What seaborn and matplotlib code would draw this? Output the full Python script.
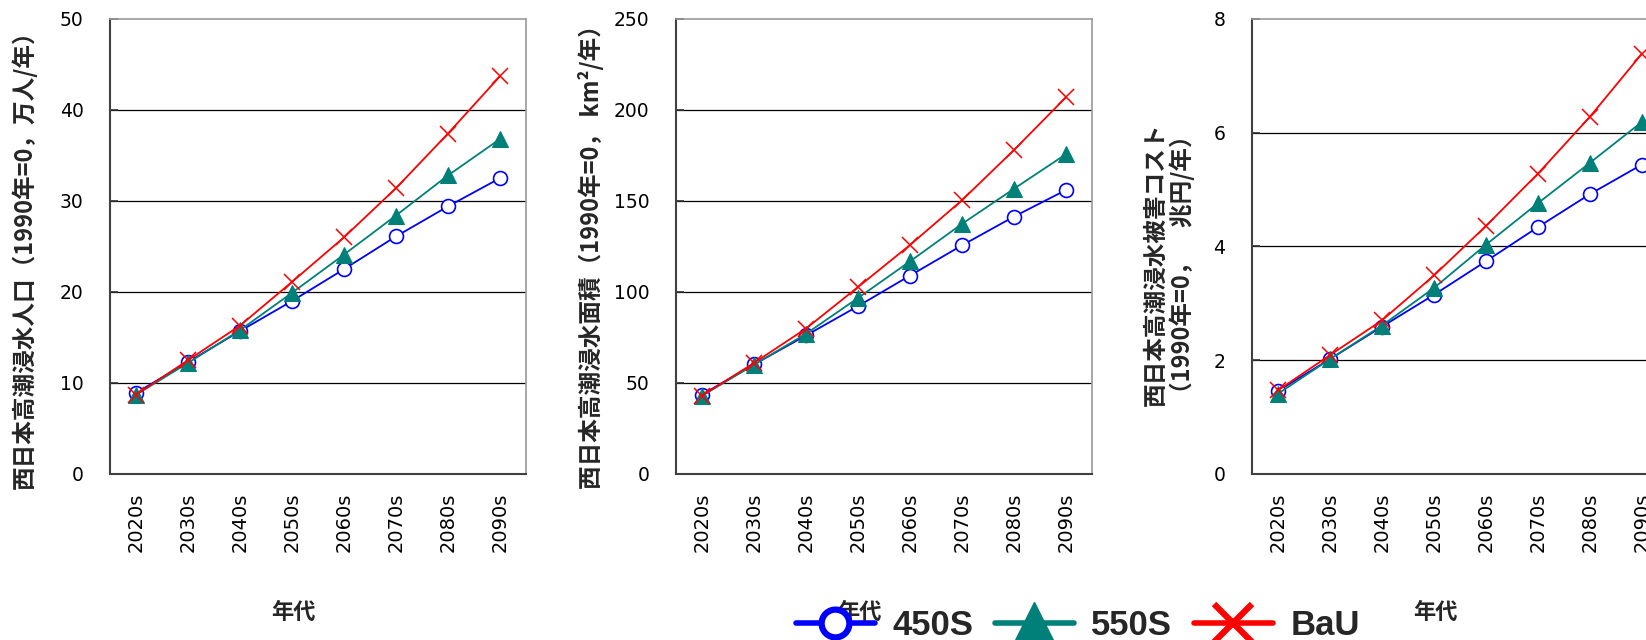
import matplotlib
matplotlib.use("Agg")
import matplotlib.pyplot as plt
from matplotlib.lines import Line2D
import pandas as pd
import seaborn as sns

decades = ["2020s", "2030s", "2040s", "2050s", "2060s", "2070s", "2080s", "2090s"]
scenarios = ["450S", "550S", "BaU"]

# 西日本高潮浸水人口 (万人/年)
pop_450 = [8.9, 12.3, 15.7, 19.0, 22.5, 26.1, 29.4, 32.5]
pop_550 = [8.7, 12.2, 15.8, 19.9, 24.1, 28.4, 32.8, 36.8]
pop_bau = [8.7, 12.5, 16.3, 21.1, 26.0, 31.4, 37.4, 43.7]

# 西日本高潮浸水面積 (km2/年)
area_450 = [43.6, 60.2, 76.1, 92.2, 109.0, 125.6, 141.4, 156.0]
area_550 = [43.0, 60.0, 77.0, 96.7, 116.8, 137.4, 156.7, 175.7]
area_bau = [43.0, 61.0, 79.9, 102.7, 125.8, 150.4, 178.0, 207.0]

# 西日本高潮浸水被害コスト (兆円/年)
cost_450 = [1.46, 2.02, 2.59, 3.15, 3.74, 4.34, 4.92, 5.44]
cost_550 = [1.41, 2.02, 2.61, 3.27, 4.03, 4.76, 5.47, 6.19]
cost_bau = [1.47, 2.09, 2.70, 3.49, 4.36, 5.28, 6.28, 7.39]

ylabels = [
    "西日本高潮浸水人口（1990年=0，万人/年）",
    "西日本高潮浸水面積（1990年=0， km²/年）",
    "西日本高潮浸水被害コスト\n（1990年=0，　兆円/年）",
]
yticks = [[0, 10, 20, 30, 40, 50], [0, 50, 100, 150, 200, 250], [0, 2, 4, 6, 8]]

colors = {"450S": "#0000FF", "550S": "#008078", "BaU": "#FF0000"}
marker_kw = {
    "450S": dict(marker="o", markersize=10, markerfacecolor="white",
                 markeredgecolor="#0000FF", markeredgewidth=1.2),
    "550S": dict(marker="^", markersize=11, markerfacecolor="#008078",
                 markeredgecolor="#008078"),
    "BaU": dict(marker="x", markersize=12, markeredgecolor="#FF0000",
                markeredgewidth=1.1),
}

panels = [
    [pop_450, pop_550, pop_bau],
    [area_450, area_550, area_bau],
    [cost_450, cost_550, cost_bau],
]

sns.set_theme(style="white")
plt.rcParams["font.family"] = ["DejaVu Sans", "Noto Sans CJK JP"]

fig = plt.figure(figsize=(16.46, 6.4), dpi=100)
positions = [
    [0.0668, 0.2594, 0.2527, 0.711],
    [0.4107, 0.2594, 0.2527, 0.711],
    [0.7606, 0.2594, 0.2527, 0.711],
]
ylabel_xy = [(-0.175, 0.485), (-0.173, 0.49), (-0.137, 0.46)]

for i, (series, pos) in enumerate(zip(panels, positions)):
    ax = fig.add_axes(pos)
    frames = []
    for name, vals in zip(scenarios, series):
        frames.append(pd.DataFrame({"decade": decades, "value": vals, "scenario": name}))
    df = pd.concat(frames, ignore_index=True)
    for name in scenarios:
        sub = df[df["scenario"] == name]
        sns.lineplot(data=sub, x="decade", y="value", ax=ax, color=colors[name],
                     linewidth=1.3, sort=False, legend=False, **marker_kw[name])
    ax.set_xlim(-0.5, len(decades) - 0.5)
    ax.set_ylim(yticks[i][0], yticks[i][-1])
    ax.set_yticks(yticks[i])
    for t in yticks[i][1:-1]:
        ax.axhline(t, color="black", linewidth=0.9, zorder=0)
    ax.tick_params(axis="x", length=0, pad=13.5, labelsize=14, rotation=90)
    ax.tick_params(axis="y", direction="in", length=6, width=1.2, color="#303030",
                   pad=19, labelsize=13.5, left=True)
    for lab in ax.get_yticklabels() + ax.get_xticklabels():
        lab.set_color("black")
    for side in ["top", "right"]:
        ax.spines[side].set_color("#9a9a9a")
        ax.spines[side].set_linewidth(1.2)
    for side in ["left", "bottom"]:
        ax.spines[side].set_color("#404040")
        ax.spines[side].set_linewidth(1.5)
    ax.set_xlabel("年代", family=["Noto Sans CJK JP"], fontweight="bold", fontsize=16)
    ax.xaxis.set_label_coords(0.44, -0.279)
    ax.set_ylabel(ylabels[i], family=["Noto Sans CJK JP", "DejaVu Sans"],
                  fontweight="bold", fontsize=17, linespacing=1.1)
    ax.yaxis.set_label_coords(*ylabel_xy[i])

handles = [
    Line2D([], [], color="#0000FF", linewidth=4, marker="o", markersize=20,
           markerfacecolor="white", markeredgecolor="#0000FF", markeredgewidth=4.5),
    Line2D([], [], color="#008078", linewidth=4, marker="^", markersize=30,
           markerfacecolor="#008078", markeredgecolor="#008078"),
    Line2D([], [], color="#FF0000", linewidth=4, marker="x", markersize=28,
           markeredgecolor="#FF0000", markeredgewidth=4.5),
]
fig.legend(handles, scenarios, loc="center left", bbox_to_anchor=(0.473, 0.022),
           ncol=3, frameon=False, borderpad=0, handlelength=2.27, handletextpad=0.5,
           columnspacing=0.63,
           prop={"family": "Liberation Sans", "weight": "bold", "size": 25})

fig.savefig("out.png", dpi=100)
